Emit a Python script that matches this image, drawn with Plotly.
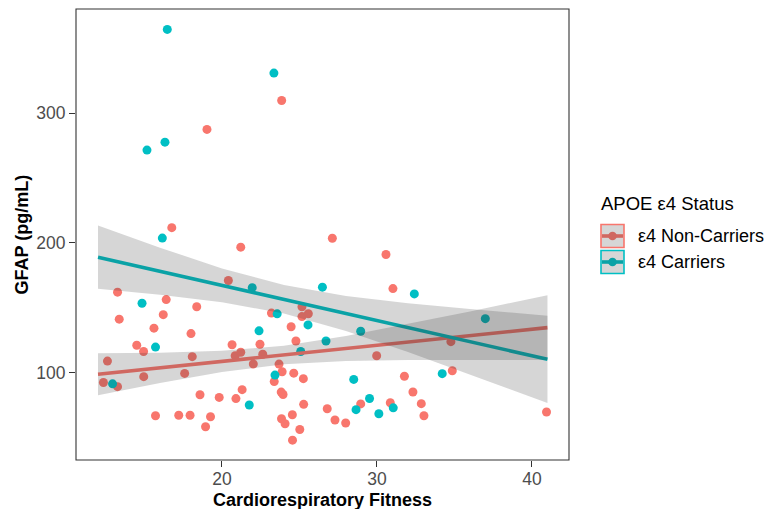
import plotly.graph_objects as go

# ---------------- data ----------------
noncarrier_fitness = [12.35, 12.61, 13.26, 13.26, 13.37, 14.50, 14.94, 14.95, 15.61, 15.71,
                      16.21, 16.40, 16.76, 17.21, 17.59, 17.94, 18.00, 18.08, 18.37, 18.58,
                      18.94, 19.03, 19.26, 19.82, 20.41, 20.65, 20.85, 20.90, 21.21, 21.21,
                      21.30, 22.02, 22.45, 22.63, 23.19, 23.37, 23.68, 23.85, 23.88, 23.82,
                      23.94, 23.84, 24.07, 24.46, 24.54, 24.55, 24.63, 24.77, 25.02, 25.16,
                      25.16, 25.57, 25.25, 25.27, 26.79, 27.12, 27.29, 27.98, 28.95, 29.98,
                      30.58, 30.86, 31.03, 31.77, 32.32, 32.86, 33.03, 34.77, 34.86, 40.94]
noncarrier_gfap = [92.4, 108.9, 89.2, 162.0, 141.2, 121.1, 116.3, 96.9, 134.3, 66.8,
                   144.7, 156.3, 211.7, 67.2, 99.4, 67.2, 130.1, 112.3, 150.8, 83.0,
                   58.3, 287.4, 66.0, 80.9, 171.0, 121.5, 113.0, 80.0, 196.7, 115.7,
                   86.9, 106.7, 121.9, 114.2, 145.9, 93.1, 106.6, 309.7, 100.7, 85.0,
                   83.2, 64.5, 60.6, 135.4, 67.6, 48.0, 99.6, 124.4, 56.2, 150.7,
                   143.2, 145.4, 95.4, 75.6, 72.2, 203.6, 63.5, 61.2, 75.9, 113.0,
                   191.0, 76.8, 164.8, 97.2, 85.1, 76.1, 66.8, 123.9, 101.5, 69.7]

carrier_fitness = [12.94, 14.84, 15.16, 15.71, 16.15, 16.32, 16.47, 21.76, 21.95, 22.39,
                   23.35, 23.42, 23.56, 25.08, 25.55, 26.48, 26.71, 28.50, 28.65, 28.95,
                   29.52, 30.12, 31.05, 32.41, 34.21, 36.99]
carrier_gfap = [91.4, 153.5, 271.5, 119.7, 203.7, 277.6, 364.5, 75.1, 165.5, 132.2,
                330.8, 98.1, 145.3, 116.3, 136.8, 165.9, 124.4, 94.8, 71.5, 131.9,
                80.1, 68.3, 72.9, 160.7, 99.2, 141.6]

# fitted lines and 95% bands at a few fitness values
fit_fitness = [12.0, 41.0]
noncarrier_fit = [98.8, 134.7]
carrier_fit = [189.0, 110.3]

band_fitness = [12.0, 16, 20, 24, 28, 32, 36, 41.0]
noncarrier_band_hi = [115.0, 115.3, 116.8, 120.7, 128.3, 137.5, 147.2, 159.6]
noncarrier_band_lo = [82.6, 92.1, 100.6, 106.5, 108.9, 109.7, 109.8, 109.8]
carrier_band_hi = [213.4, 196.3, 180.3, 167.5, 159.1, 153.4, 149.0, 143.9]
carrier_band_lo = [164.6, 160.1, 154.3, 145.5, 132.1, 116.0, 98.8, 76.7]

group_labels = ["ε4 Non-Carriers", "ε4 Carriers"]
legend_title = "APOE ε4 Status"
x_title = "Cardiorespiratory Fitness"
y_title = "GFAP (pg/mL)"
x_ticks = [20, 30, 40]
y_ticks = [100, 200, 300]

# ---------------- style ----------------
RED = "#F8766D"
CYAN = "#00BFC4"
BAND = "rgba(51,51,51,0.2)"
FONT = "Liberation Sans, Arial, sans-serif"

W, H = 774, 509
PL, PR, PT, PB = 76, 569, 9, 460   # panel box in pixels
X_RANGE = [10.58, 42.39]
Y_RANGE = [32.7, 380.2]

fig = go.Figure()

# points
fig.add_trace(go.Scatter(x=noncarrier_fitness, y=noncarrier_gfap, mode="markers",
                         marker=dict(color=RED, size=9, line=dict(width=0)),
                         showlegend=False, hoverinfo="skip"))
fig.add_trace(go.Scatter(x=carrier_fitness, y=carrier_gfap, mode="markers",
                         marker=dict(color=CYAN, size=9, line=dict(width=0)),
                         showlegend=False, hoverinfo="skip"))

# regression lines
for fit, col in [(noncarrier_fit, RED), (carrier_fit, CYAN)]:
    fig.add_trace(go.Scatter(x=fit_fitness, y=fit, mode="lines", line=dict(color=col, width=3.6),
                             showlegend=False, hoverinfo="skip"))

# confidence bands (drawn over the lines, like the reference)
for hi, lo in [(noncarrier_band_hi, noncarrier_band_lo), (carrier_band_hi, carrier_band_lo)]:
    fig.add_trace(go.Scatter(x=band_fitness + band_fitness[::-1],
                             y=hi + lo[::-1],
                             mode="lines", line=dict(width=0), fill="toself",
                             fillcolor=BAND, showlegend=False, hoverinfo="skip"))


def px_x(p):
    return (p - PL) / (PR - PL)


def px_y(p):
    return (PB - p) / (PB - PT)


shapes = []
annotations = []

# panel border
shapes.append(dict(type="rect", xref="paper", yref="paper", x0=0, x1=1, y0=0, y1=1,
                   line=dict(color="#333333", width=1.1), fillcolor="rgba(0,0,0,0)", layer="above"))

# axis titles
annotations.append(dict(text="<b>" + x_title + "</b>", xref="paper", yref="paper",
                        x=0.5, y=px_y(500), xanchor="center", yanchor="middle", showarrow=False,
                        font=dict(family=FONT, size=18, color="black")))
annotations.append(dict(text="<b>" + y_title + "</b>", xref="paper", yref="paper",
                        x=px_x(21), y=px_y(234.5), xanchor="center", yanchor="middle", showarrow=False,
                        textangle=-90, font=dict(family=FONT, size=18, color="black")))

# custom legend
annotations.append(dict(text=legend_title, xref="paper", yref="paper", x=px_x(599), y=px_y(203.5),
                        xanchor="left", yanchor="middle", showarrow=False,
                        font=dict(family=FONT, size=18.5, color="black")))
for i, (lab, col) in enumerate(zip(group_labels, [RED, CYAN])):
    cy = 236 + 26 * i
    x0, x1 = 601, 624
    shapes.append(dict(type="line", xref="paper", yref="paper", x0=px_x(x0 + 1), x1=px_x(x1 - 1),
                       y0=px_y(cy), y1=px_y(cy), line=dict(color=col, width=3.6), layer="above"))
    shapes.append(dict(type="circle", xref="paper", yref="paper",
                       x0=px_x((x0 + x1) / 2 - 4.3), x1=px_x((x0 + x1) / 2 + 4.3),
                       y0=px_y(cy + 4.3), y1=px_y(cy - 4.3),
                       line=dict(width=0), fillcolor=col, layer="above"))
    shapes.append(dict(type="rect", xref="paper", yref="paper",
                       x0=px_x(x0), x1=px_x(x1), y0=px_y(cy + 11.5), y1=px_y(cy - 11.5),
                       line=dict(color=col, width=1.6), fillcolor=BAND, layer="above"))
    annotations.append(dict(text=lab, xref="paper", yref="paper", x=px_x(636), y=px_y(cy),
                            xanchor="left", yanchor="middle", showarrow=False,
                            font=dict(family=FONT, size=18, color="black")))

fig.update_layout(
    width=W, height=H,
    margin=dict(l=PL, r=W - PR, t=PT, b=H - PB, pad=0),
    paper_bgcolor="white", plot_bgcolor="white",
    font=dict(family=FONT),
    showlegend=False,
    shapes=shapes, annotations=annotations,
    xaxis=dict(range=X_RANGE, tickvals=x_ticks, ticktext=[str(v) for v in x_ticks],
               showgrid=False, zeroline=False, showline=False,
               ticks="outside", ticklen=6, tickwidth=1.1, tickcolor="#333333",
               ticklabelstandoff=-3,
               tickfont=dict(family=FONT, size=17.5, color="#4D4D4D")),
    yaxis=dict(range=Y_RANGE, tickvals=y_ticks, ticktext=[str(v) for v in y_ticks],
               showgrid=False, zeroline=False, showline=False,
               ticks="outside", ticklen=6, tickwidth=1.1, tickcolor="#333333",
               tickfont=dict(family=FONT, size=17.5, color="#4D4D4D")),
)

fig.write_html("out.html", config={"displayModeBar": False},
               post_script="document.body.style.margin='0px';")
